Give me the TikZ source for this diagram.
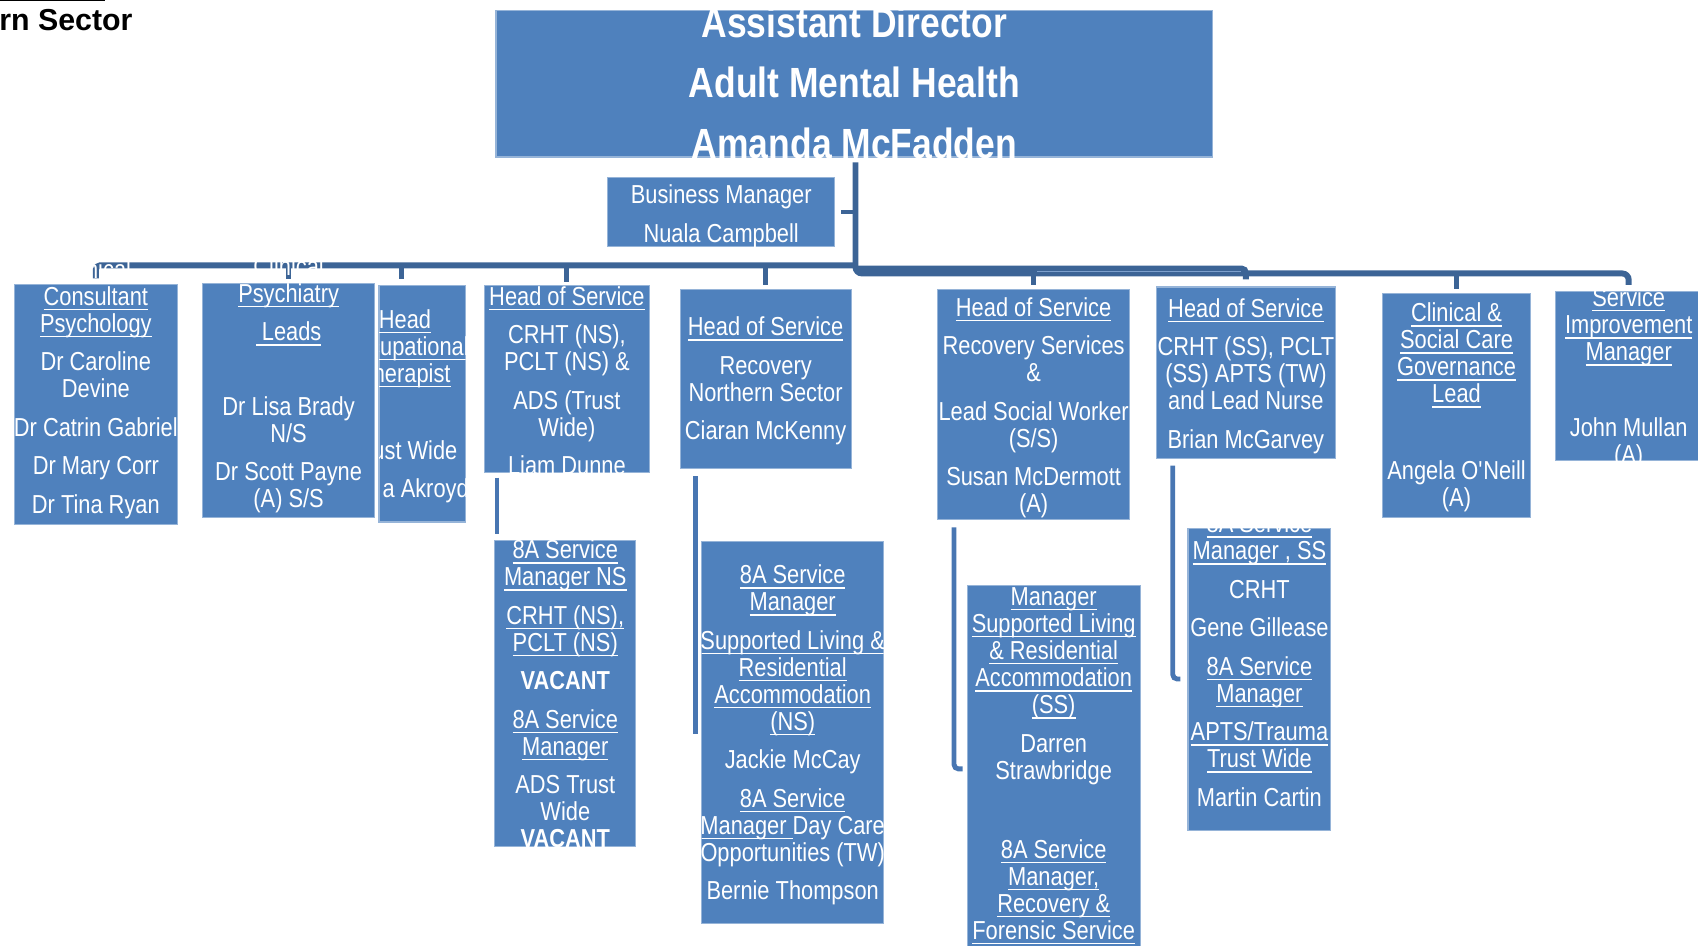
\documentclass[tikz,border=0pt]{standalone}
\usepackage{fontspec}
\setmainfont{Liberation Sans}[FakeStretch=0.84]
\newfontfamily\plainsans{Liberation Sans}

\definecolor{boxblue}{RGB}{79,129,189}
\definecolor{boxline}{RGB}{150,180,216}
\definecolor{busblue}{RGB}{60,100,150}
\definecolor{feedblue}{RGB}{72,118,178}
\definecolor{seam}{RGB}{125,160,205}

% body text: 24px type on a 25px line (1px = 0.5pt)
\newcommand\bodyfont{\fontsize{12pt}{12.5pt}\selectfont\lineskiplimit=-30pt\relax}
\newcommand\headfont{\fontsize{19.5pt}{28pt}\selectfont\bfseries\lineskiplimit=-30pt\relax}
% fixed height for the first line, so a node's north sits 1em above its first baseline
\newcommand\firstln{\rule{0pt}{1em}}
\newsavebox\ulbox
\newcommand\uln[1]{\sbox\ulbox{#1}\rlap{\rule[-2.3pt]{\wd\ulbox}{0.7pt}}\usebox\ulbox}
% \orgbox{name}{x1}{y1}{x2}{y2}
\newcommand\orgbox[5]{\node[orgbox, minimum width={(#4-#2)*0.5pt}, minimum height={(#5-#3)*0.5pt}] (#1) at ({(#2+#4)/2},{(#3+#5)/2}) {};}
% \boxtext{box}{x of centre}{y of first line}{lines}: text cut off at the box sides and bottom
\newcommand\boxtext[4]{\begin{scope}\clip ([yshift=45pt]#1.north west) rectangle (#1.south east);\node[boxtxt] (#1-text) at (#2,{#3-15.4}) {\firstln#4};\end{scope}}

\begin{document}
\begin{tikzpicture}[x=0.5pt,y=-0.5pt,
  orgbox/.style={draw=boxline, line width=0.5pt, fill=boxblue, inner sep=0pt, outer sep=0pt},
  boxtxt/.style={text=white, align=center, inner sep=0pt, anchor=north, font=\bodyfont},
  bus/.style={draw=busblue, line width=2.75pt},
  stub/.style={draw=busblue, line width=2.25pt},
  feeder/.style={draw=feedblue, line width=2.25pt, rounded corners=2pt}]
\useasboundingbox (0,0) rectangle (1568,873);
\clip (0,0) rectangle (1568,873);

% heading at the top left
\draw[line width=0.7pt] (0,0.6) -- (97,0.6);
\node[anchor=base west, inner sep=0pt, font=\plainsans\fontsize{14pt}{16pt}\selectfont\bfseries] (sector) at (-1,28) {rn Sector};

% boxes
\orgbox{top}{458}{10}{1120}{145}
\orgbox{bm}{561}{164}{771}{228}
\orgbox{cpsy}{13}{263}{164}{484}
\orgbox{psy}{187}{262}{346}{478}
\orgbox{ot}{350}{264}{430}{482}
\orgbox{crht}{447}{264}{600}{436}
\orgbox{recn}{628}{267}{786}{433}
\orgbox{rec}{866}{267}{1043}{480}
\orgbox{crs}{1068}{265}{1233}{423}
\orgbox{gov}{1277}{271}{1413}{478}
\orgbox{sim}{1436}{269}{1572}{425}
\orgbox{ns}{457}{499}{587}{782}
\orgbox{sl}{648}{500}{816}{853}
\orgbox{ss}{893}{541}{1053}{878}
\orgbox{gg}{1097}{488}{1229}{767}

% reference points for the connector lines
\coordinate (tx) at (790,0);
\coordinate (busL) at (0,245);
\coordinate (busA) at (0,248);
\coordinate (busR) at (0,252.5);
\coordinate (otx) at (371,0);
\coordinate (nsx) at (459,0);
\coordinate (slx) at (642,0);
\coordinate (ssx) at (881,0);
\coordinate (ggx) at (1083,0);
\coordinate (slend) at (642,678);
\coordinate (ssy) at (0,710);
\coordinate (ggy) at (0,627);

% trunk and buses
\path (top.south -| tx) ++(0,5) coordinate (tstart);
\draw[bus, rounded corners=3pt, shorten >=3pt] (tstart) |- (sim.north |- busR) -- (sim.north);
\draw[bus, rounded corners=2pt, shorten >=3.5pt] (tx |- busA) -| (crs.north);
\draw[seam, line width=0.35pt] (958,250.3) -- (1146,250.3);
\draw[bus, rounded corners=2pt, shorten <=3pt] (cpsy.north) |- (tx |- busL);
\draw[bus, line width=2pt, shorten <=3pt] (bm.east) -- (bm.east -| tx);

% drops to the first row
\foreach \b in {psy,crht,recn}
  \draw[stub, shorten >=2pt] (\b.north |- busL) -- (\b.north);
\draw[stub, shorten >=3pt] (otx |- busL) -- (otx |- ot.north);
\foreach \b in {rec,gov}
  \draw[stub, shorten >=2pt] (\b.north |- busR) -- (\b.north);

% lines to the second row
\draw[feeder, shorten <=2.5pt, shorten >=3pt] (nsx |- crht.south) -- (nsx |- ns.north);
\draw[feeder, shorten <=3.5pt] (slx |- recn.south) -- (slend);
\draw[feeder, shorten <=3.5pt, shorten >=2pt] (ssx |- rec.south) |- (ss.west |- ssy);
\draw[feeder, shorten <=3.5pt, shorten >=3.5pt] (ggx |- crs.south) |- (gg.west |- ggy);

% texts
\begin{scope}
  \clip (top.north west) rectangle (top.south east);
  \node[boxtxt, font=\headfont] (top-text) at (789,{20-25}) {\firstln Assistant Director\\ Adult Mental Health\\ Amanda McFadden};
\end{scope}

\boxtext{bm}{666}{179}{Business Manager\\[5.25pt] Nuala Campbell}

\boxtext{cpsy}{88.5}{248}{\uln{Clinical}\\ \uln{Consultant}\\ \uln{Psychology}\\[5.25pt] Dr Caroline\\ Devine\\[5.25pt] Dr Catrin Gabriel\\[5.25pt] Dr Mary Corr\\[5.25pt] Dr Tina Ryan}

\boxtext{psy}{266.5}{245}{\uln{Clinical}\\ \uln{Psychiatry}\\[5.25pt] \uln{\ Leads}\\[22pt] Dr Lisa Brady\\ N/S\\[5.25pt] Dr Scott Payne\\ (A) S/S}

\boxtext{ot}{374}{294}{\uln{Head}\\ \uln{Occupational}\\ \uln{Therapist}\\[23pt] Trust Wide\\[5.25pt] \phantom{Lind}a Akroyd}

\boxtext{crht}{523.5}{273}{\uln{Head of Service}\\[5.25pt] CRHT (NS),\\ PCLT (NS) \&\\[5.25pt] ADS (Trust\\ Wide)\\[5.25pt] Liam Dunne}

\boxtext{recn}{707}{301}{\uln{Head of Service}\\[5.25pt] Recovery\\ Northern Sector\\[5.25pt] Ciaran McKenny}

\boxtext{rec}{954.5}{283}{\uln{Head of Service}\\[5.25pt] Recovery Services\\ \&\\[5.25pt] Lead Social Worker\\ (S/S)\\[5.25pt] Susan McDermott\\ (A)}

\boxtext{crs}{1150.5}{284}{\uln{Head of Service}\\[5.25pt] CRHT (SS), PCLT\\ (SS) APTS (TW)\\ and Lead Nurse\\[5.25pt] Brian McGarvey}

\boxtext{gov}{1345}{288}{\uln{Clinical \&}\\ \uln{Social Care}\\ \uln{Governance}\\ \uln{Lead}\\[23pt] Angela O\textquotesingle Neill\\ (A)}

\boxtext{sim}{1504}{274}{\uln{Service}\\ \uln{Improvement}\\ \uln{Manager}\\[22.5pt] John Mullan\\ (A)}

\boxtext{ns}{522}{507}{\uln{8A Service}\\ \uln{Manager NS}\\[5.25pt] \uln{CRHT (NS),}\\ \uln{PCLT (NS)}\\[5.25pt] \textbf{VACANT}\\[5.25pt] \uln{8A Service}\\ \uln{Manager}\\[5.25pt] ADS Trust\\ Wide\\ \textbf{VACANT}}

\boxtext{sl}{732}{530}{\uln{8A Service}\\ \uln{Manager}\\[5.25pt] \uln{Supported Living \&}\\ \uln{Residential}\\ \uln{Accommodation}\\ \uln{(NS)}\\[5.25pt] Jackie McCay\\[5.25pt] \uln{8A Service}\\ \uln{Manager\ }Day Care\\ Opportunities (TW)\\[5.25pt] Bernie Thompson}

\boxtext{ss}{973}{550}{\uln{Manager}\\ \uln{Supported Living}\\ \uln{\& Residential}\\ \uln{Accommodation}\\ \uln{(SS)}\\[5.25pt] Darren\\ Strawbridge\\[24pt] \uln{8A Service}\\ \uln{Manager,}\\ \uln{Recovery \&}\\ \uln{Forensic Service}}

\boxtext{gg}{1163}{483}{\uln{8A Service}\\ \uln{Manager , SS}\\[5.25pt] CRHT\\[5.25pt] Gene Gillease\\[5.25pt] \uln{8A Service}\\ \uln{Manager}\\[5.25pt] \uln{APTS/Trauma}\\ \uln{Trust Wide}\\[5.25pt] Martin Cartin}
\end{tikzpicture}
\end{document}
